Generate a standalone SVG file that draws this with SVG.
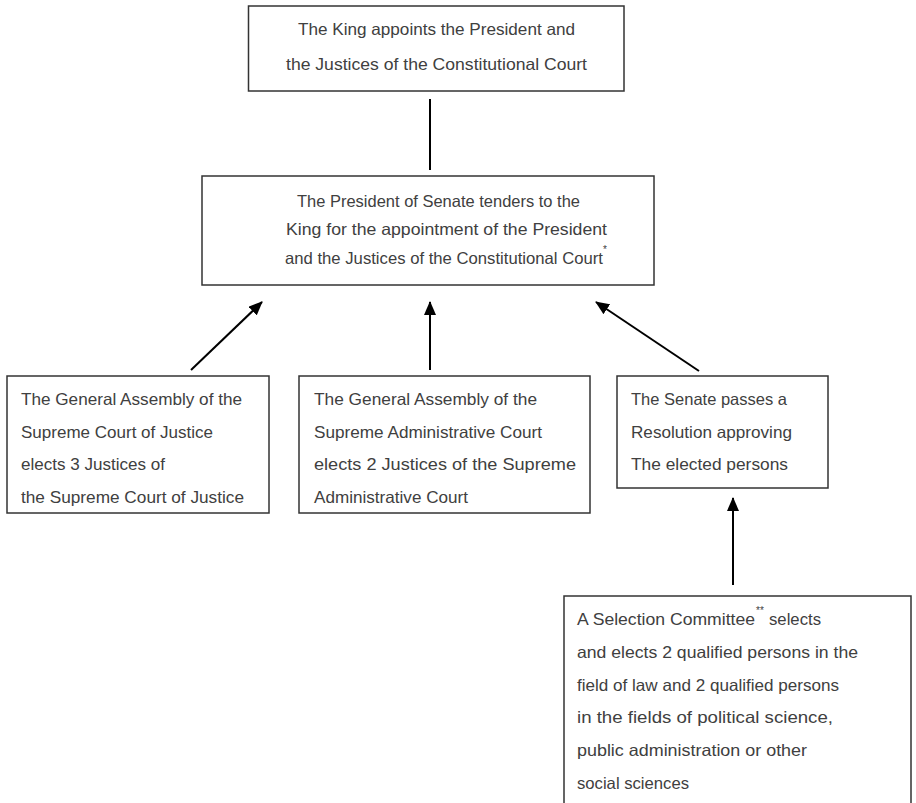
<svg xmlns="http://www.w3.org/2000/svg" width="916" height="803" viewBox="0 0 916 803">
<style>
.box{fill:#fff;stroke:#333;stroke-width:1.5}
.t{font-family:"Liberation Sans","Noto Sans",sans-serif;font-size:16.5px;fill:#404040}
.s{font-family:"Liberation Sans","Noto Sans",sans-serif;font-size:10px;fill:#404040}
.c{stroke:#000;stroke-width:2;fill:none}
</style>
<defs>
<marker id="ah" markerUnits="userSpaceOnUse" markerWidth="14" markerHeight="12" viewBox="0 0 14 12" refX="13" refY="6" orient="auto">
<path d="M0,0 L14,6 L0,12 Z" fill="#000"/>
</marker>
</defs>
<rect width="916" height="803" fill="#fff"/>
<g id="king">
<rect class="box" x="248.5" y="6" width="375.5" height="85"/>
<text class="t" x="298" y="35" textLength="277" lengthAdjust="spacingAndGlyphs">The King appoints the President and</text>
<text class="t" x="286" y="70" textLength="301" lengthAdjust="spacingAndGlyphs">the Justices of the Constitutional Court</text>
</g>
<g id="senate-president">
<rect class="box" x="202" y="176" width="452" height="109"/>
<text class="t" x="297" y="207" textLength="283" lengthAdjust="spacingAndGlyphs">The President of Senate tenders to the</text>
<text class="t" x="286" y="235" textLength="321" lengthAdjust="spacingAndGlyphs">King for the appointment of the President</text>
<text class="t" x="285" y="264" textLength="318" lengthAdjust="spacingAndGlyphs">and the Justices of the Constitutional Court</text>
<text class="s" x="603" y="253">*</text>
</g>
<g id="supreme-court">
<rect class="box" x="7" y="376" width="262" height="137"/>
<text class="t" x="21" y="405" textLength="221" lengthAdjust="spacingAndGlyphs">The General Assembly of the</text>
<text class="t" x="21" y="438" textLength="192" lengthAdjust="spacingAndGlyphs">Supreme Court of Justice</text>
<text class="t" x="21" y="470" textLength="144" lengthAdjust="spacingAndGlyphs">elects 3 Justices of</text>
<text class="t" x="21" y="503" textLength="223" lengthAdjust="spacingAndGlyphs">the Supreme Court of Justice</text>
</g>
<g id="admin-court">
<rect class="box" x="299" y="376" width="291" height="137"/>
<text class="t" x="314" y="405" textLength="223" lengthAdjust="spacingAndGlyphs">The General Assembly of the</text>
<text class="t" x="314" y="438" textLength="228" lengthAdjust="spacingAndGlyphs">Supreme Administrative Court</text>
<text class="t" x="314" y="470" textLength="262" lengthAdjust="spacingAndGlyphs">elects 2 Justices of the Supreme</text>
<text class="t" x="314" y="503" textLength="154" lengthAdjust="spacingAndGlyphs">Administrative Court</text>
</g>
<g id="senate">
<rect class="box" x="617" y="376" width="211" height="112"/>
<text class="t" x="631" y="405" textLength="156" lengthAdjust="spacingAndGlyphs">The Senate passes a</text>
<text class="t" x="631" y="438" textLength="161" lengthAdjust="spacingAndGlyphs">Resolution approving</text>
<text class="t" x="631" y="470" textLength="157" lengthAdjust="spacingAndGlyphs">The elected persons</text>
</g>
<g id="selection-committee">
<path class="box" d="M564,810 V596 H911 V810"/>
<text class="t" x="577" y="625" textLength="178" lengthAdjust="spacingAndGlyphs">A Selection Committee</text>
<text class="s" x="756" y="614">**</text>
<text class="t" x="769" y="625" textLength="52" lengthAdjust="spacingAndGlyphs">selects</text>
<text class="t" x="577" y="658" textLength="281" lengthAdjust="spacingAndGlyphs">and elects 2 qualified persons in the</text>
<text class="t" x="577" y="691" textLength="262" lengthAdjust="spacingAndGlyphs">field of law and 2 qualified persons</text>
<text class="t" x="577" y="723" textLength="256" lengthAdjust="spacingAndGlyphs">in the fields of political science,</text>
<text class="t" x="577" y="756" textLength="230" lengthAdjust="spacingAndGlyphs">public administration or other</text>
<text class="t" x="577" y="789" textLength="112" lengthAdjust="spacingAndGlyphs">social sciences</text>
</g>
<g id="connectors">
<line class="c" x1="430" y1="99" x2="430" y2="170"/>
<line class="c" x1="191" y1="370" x2="262" y2="302" marker-end="url(#ah)"/>
<line class="c" x1="430" y1="370" x2="430" y2="302" marker-end="url(#ah)"/>
<line class="c" x1="699" y1="371" x2="596" y2="302" marker-end="url(#ah)"/>
<line class="c" x1="733" y1="585" x2="733" y2="498" marker-end="url(#ah)"/>
</g>
</svg>
